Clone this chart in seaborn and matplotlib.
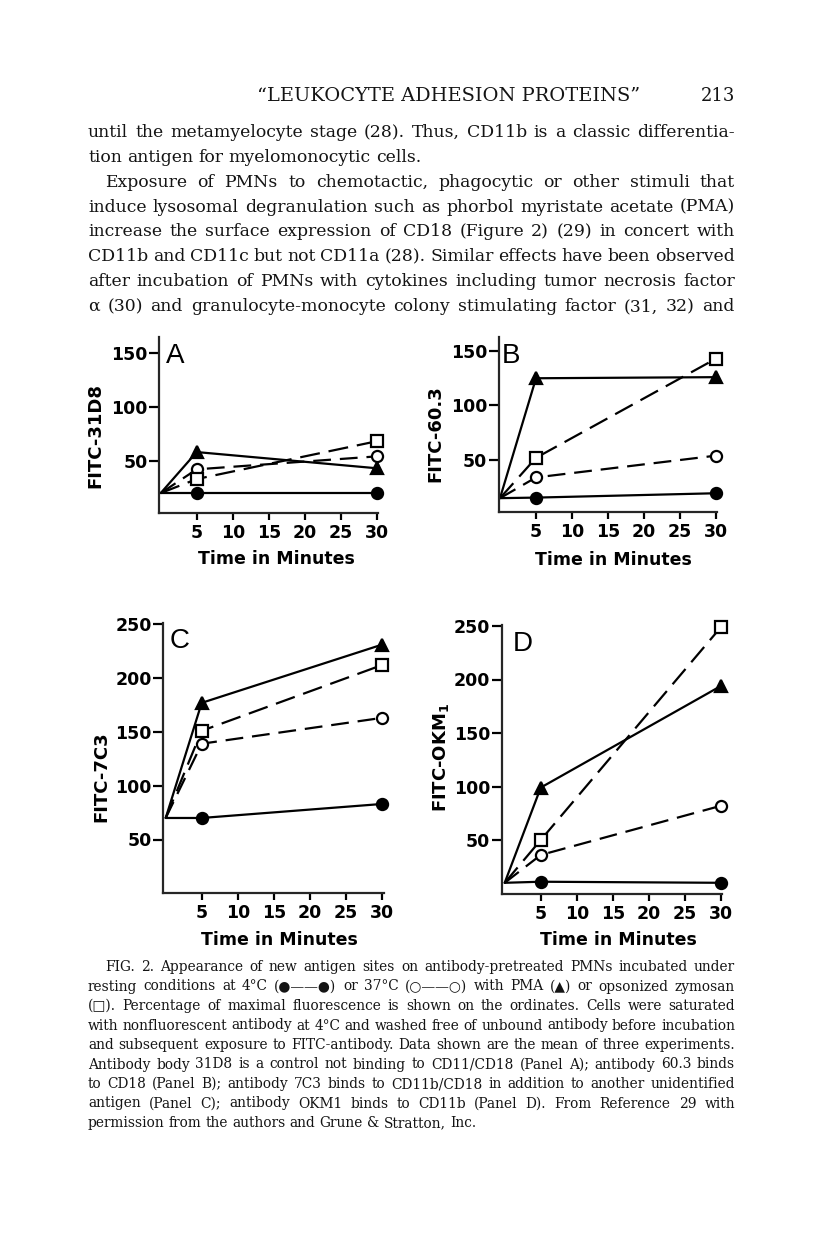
import matplotlib
matplotlib.use("Agg")
import matplotlib.pyplot as plt
import seaborn as sns
import pandas as pd

W, H = 816, 1255

# ---- data (percent of maximal fluorescence) ----
minutes = [0, 5, 30]
conditions = ["4C", "37C", "PMA", "Zymosan"]

a_cold = [20, 20, 20]
a_warm = [20, 42, 54]
a_pma = [20, 58, 43]
a_zym = [20, 33, 68]

b_cold = [15, 15.5, 19.5]
b_warm = [15, 34, 54]
b_pma = [15, 125, 126]
b_zym = [15, 52, 143]

c_cold = [70, 70, 83]
c_warm = [70, 139, 163]
c_pma = [70, 177, 231]
c_zym = [70, 151, 212]

d_cold = [10, 11, 10]
d_warm = [10, 36, 82]
d_pma = [10, 99, 194]
d_zym = [10, 50, 249]

panels = ["A", "B", "C", "D"]
y_labels = ["FITC-31D8", "FITC-60.3", "FITC-7C3", r"FITC-OKM$_\mathbf{1}$"]
x_ticks = [5, 10, 15, 20, 25, 30]
y_ticks_ab = [50, 100, 150]
y_ticks_cd = [50, 100, 150, 200, 250]

values = {
    "A": [a_cold, a_warm, a_pma, a_zym],
    "B": [b_cold, b_warm, b_pma, b_zym],
    "C": [c_cold, c_warm, c_pma, c_zym],
    "D": [d_cold, d_warm, d_pma, d_zym],
}

rows = []
for p in panels:
    for cond, vals in zip(conditions, values[p]):
        for t, v in zip(minutes, vals):
            rows.append({"Panel": p, "Condition": cond, "Minutes": t, "Value": v})
df = pd.DataFrame(rows)

heading = "\u201cLEUKOCYTE ADHESION PROTEINS\u201d"
page_no = "213"
body = [
    ("until the metamyelocyte stage (28). Thus, CD11b is a classic differentia-", 0, True),
    ("tion antigen for myelomonocytic cells.", 0, False),
    ("Exposure of PMNs to chemotactic, phagocytic or other stimuli that", 17, True),
    ("induce lysosomal degranulation such as phorbol myristate acetate (PMA)", 0, True),
    ("increase the surface expression of CD18 (Figure 2) (29) in concert with", 0, True),
    ("CD11b and CD11c but not CD11a (28). Similar effects have been observed", 0, True),
    ("after incubation of PMNs with cytokines including tumor necrosis factor", 0, True),
    ("\u03b1 (30) and granulocyte-monocyte colony stimulating factor (31, 32) and", 0, True),
]
caption = [
    ("FIG. 2. Appearance of new antigen sites on antibody-pretreated PMNs incubated under", 17, True),
    ("resting conditions at 4\u00b0C (\u25cf\u2014\u2014\u25cf) or 37\u00b0C (\u25cb\u2014\u2014\u25cb) with PMA (\u25b2) or opsonized zymosan", 0, True),
    ("(\u25a1). Percentage of maximal fluorescence is shown on the ordinates. Cells were saturated", 0, True),
    ("with nonfluorescent antibody at 4\u00b0C and washed free of unbound antibody before incubation", 0, True),
    ("and subsequent exposure to FITC-antibody. Data shown are the mean of three experiments.", 0, True),
    ("Antibody body 31D8 is a control not binding to CD11/CD18 (Panel A); antibody 60.3 binds", 0, True),
    ("to CD18 (Panel B); antibody 7C3 binds to CD11b/CD18 in addition to another unidentified", 0, True),
    ("antigen (Panel C); antibody OKM1 binds to CD11b (Panel D). From Reference 29 with", 0, True),
    ("permission from the authors and Grune & Stratton, Inc.", 0, False),
]

# ---- style ----
sns.set_style("ticks")
plt.rcParams["font.family"] = ["DejaVu Sans"]
plt.rcParams["mathtext.fontset"] = "dejavusans"
plt.rcParams["axes.linewidth"] = 1.6

fig = plt.figure(figsize=(W / 100, H / 100), dpi=100)
fig.patch.set_facecolor("white")
renderer = fig.canvas.get_renderer()
serif = ["DejaVu Serif", "DejaVu Sans"]
LEFT, RIGHT = 88, 735
INK = "#141414"


def word_widths(words, size):
    out = []
    for w in words:
        t = fig.text(0, 0, w, fontsize=size, family=serif)
        out.append(t.get_window_extent(renderer).width)
        t.remove()
    return out


def fit_size(block, base=10.0, space=0.27):
    # largest size where every justified line still gets a normal word space
    k = 10.0
    for txt, ind, just in block:
        if not just:
            continue
        words = txt.split(" ")
        ww = sum(word_widths(words, base))
        sp = (len(words) - 1) * space * base * 100 / 72
        k = min(k, (RIGHT - LEFT - ind) / (ww + sp))
    return base * k


def text_line(txt, y, size, indent=0, justify=True):
    words = txt.split(" ")
    objs = [fig.text(0, 1 - y / H, w, fontsize=size, family=serif,
                     va="baseline", color=INK) for w in words]
    widths = [o.get_window_extent(renderer).width for o in objs]
    x0 = LEFT + indent
    if justify and len(words) > 1:
        gap = (RIGHT - x0 - sum(widths)) / (len(words) - 1)
    else:
        gap = size * 0.3 * 100 / 72
    x = x0
    for o, w in zip(objs, widths):
        o.set_x(x / W)
        x += w + gap


# heading, sized to span the same width as on the page
hw = word_widths([heading], 10)[0]
fig.text(449 / W, 1 - 101 / H, heading, fontsize=10 * 382 / hw, family=serif,
         ha="center", va="baseline", color=INK)
fig.text(RIGHT / W, 1 - 101 / H, page_no, fontsize=13, family=serif,
         ha="right", va="baseline", color=INK)

body_size = fit_size(body)
for i, (txt, ind, just) in enumerate(body):
    text_line(txt, 137 + i * 24.85, body_size, ind, just)

cap_size = fit_size(caption)
for i, (txt, ind, just) in enumerate(caption):
    text_line(txt, 971 + i * 19.5, cap_size, ind, just)

# ---- panels: (x px of t=0, y px of value 0, px per minute, px per unit, xlim, ylim)
geom = {
    "A": (160.7, 514.7, 7.2, 1.08, (-0.2, 30.2), (2, 165)),
    "B": (500.0, 514.5, 7.2, 1.09, (-0.15, 30.2), (2, 163)),
    "C": (165.7, 893.3, 7.2, 1.076, (-0.33, 30.3), (0, 251)),
    "D": (504.7, 893.5, 7.21, 1.07, (-0.4, 30.1), (0, 251)),
}
ylab_pos = {"A": (95, 435), "B": (435, 434), "C": (101, 777), "D": (441, 757)}
xlab_pos = {"A": (276, 559), "B": (613, 560), "C": (279, 940), "D": (618, 940)}
letter_pos = {"A": (166, 363), "B": (502, 363), "C": (170, 648), "D": (513, 651)}

styles = {
    "4C": dict(marker="o", markerfacecolor="black", linestyle="-"),
    "37C": dict(marker="o", markerfacecolor="white", linestyle=(0, (8, 4))),
    "PMA": dict(marker="^", markerfacecolor="black", linestyle="-"),
    "Zymosan": dict(marker="s", markerfacecolor="white", linestyle=(0, (9, 4))),
}

for p in panels:
    t0, v0, sx, sy, xl, yl = geom[p]
    left = t0 + xl[0] * sx
    right = t0 + xl[1] * sx
    bottom = v0 - yl[0] * sy
    top = v0 - yl[1] * sy
    ax = fig.add_axes([left / W, 1 - bottom / H, (right - left) / W, (bottom - top) / H])
    ax.set_facecolor("none")
    sub = df[df["Panel"] == p]
    for cond in conditions:
        s = sub[sub["Condition"] == cond]
        sns.lineplot(data=s, x="Minutes", y="Value", ax=ax, color="black",
                     errorbar=None, linewidth=1.6, markersize=8,
                     markeredgecolor="black", markeredgewidth=1.6,
                     markevery=[1, 2], clip_on=False, **styles[cond])
    ax.set_xlim(*xl)
    ax.set_ylim(*yl)
    sns.despine(ax=ax)
    ax.set_xticks(x_ticks)
    ax.set_yticks(y_ticks_ab if p in "AB" else y_ticks_cd)
    ax.tick_params(axis="y", direction="out", length=7.5, width=1.6, pad=1,
                   labelsize=12.5, colors="black")
    ax.tick_params(axis="x", direction="out", length=5, width=1.6, pad=3,
                   labelsize=12.5, colors="black")
    for lab in ax.get_xticklabels() + ax.get_yticklabels():
        lab.set_fontweight("bold")

    ax.set_xlabel("Time in Minutes", fontsize=12.5, fontweight="bold",
                  va="center", color="black")
    ax.set_ylabel(y_labels[panels.index(p)], fontsize=13, fontweight="bold",
                  va="center", ha="center", color="black")
    inv = ax.transAxes.inverted()
    xx, yy = inv.transform((xlab_pos[p][0], H - xlab_pos[p][1]))
    ax.xaxis.set_label_coords(xx, yy)
    xx, yy = inv.transform((ylab_pos[p][0], H - ylab_pos[p][1]))
    ax.yaxis.set_label_coords(xx, yy)

    lx, ly = letter_pos[p]
    fig.text(lx / W, 1 - ly / H, p, fontsize=20, family=["Liberation Sans"],
             ha="left", va="baseline", color="black")

fig.savefig("out.png", dpi=100, facecolor="white")
